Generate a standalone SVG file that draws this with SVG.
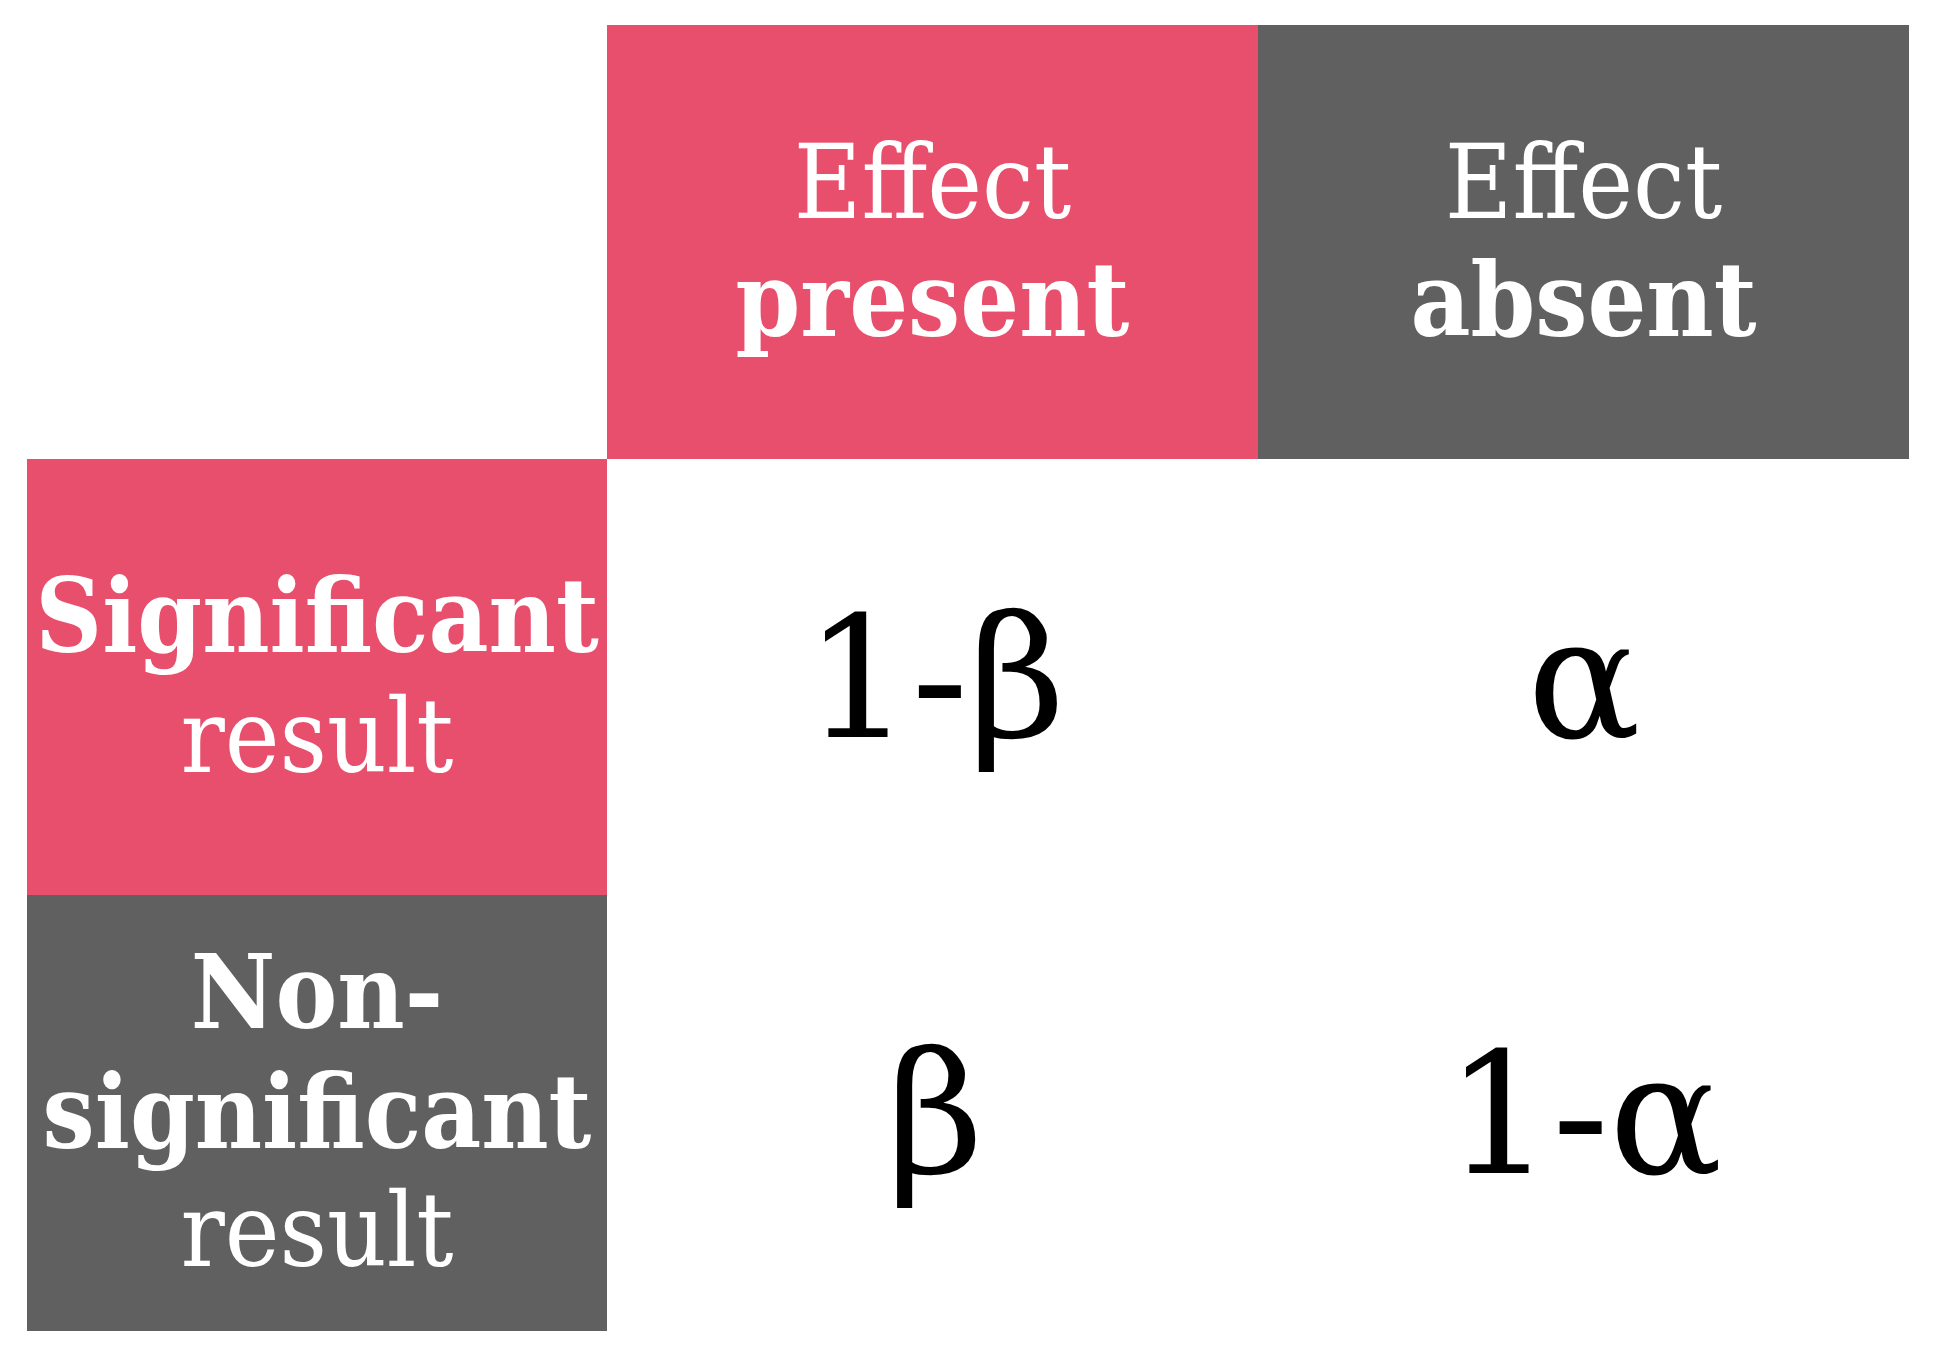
<svg xmlns="http://www.w3.org/2000/svg" width="1936" height="1354" viewBox="0 0 1936 1354">
<style>
.pink{fill:#E84F6C}
.gray{fill:#606060}
.lbl{font-family:"DejaVu Serif Condensed","DejaVu Serif","Liberation Serif",serif;font-stretch:condensed;font-size:103px;fill:#fff;text-anchor:middle}
.b{font-weight:bold}
.val{font-family:"DejaVu Serif","Liberation Serif",serif;font-size:168px;fill:#000;text-anchor:middle}
</style>
<rect width="1936" height="1354" fill="#fff"/>
<g id="col-present">
<rect class="pink" x="607" y="25" width="651" height="434"/>
<text class="lbl" x="932.5" y="218">Effect</text>
<text class="lbl b" x="932.5" y="336">present</text>
</g>
<g id="col-absent">
<rect class="gray" x="1258" y="25" width="651" height="434"/>
<text class="lbl" x="1583.5" y="218">Effect</text>
<text class="lbl b" x="1583.5" y="336">absent</text>
</g>
<g id="row-significant">
<rect class="pink" x="27" y="459" width="580" height="436"/>
<text class="lbl b" x="317" y="652">Significant</text>
<text class="lbl" x="317" y="772">result</text>
</g>
<g id="row-nonsignificant">
<rect class="gray" x="27" y="895" width="580" height="436"/>
<text class="lbl b" x="317" y="1028">Non-</text>
<text class="lbl b" x="317" y="1148">significant</text>
<text class="lbl" x="317" y="1266">result</text>
</g>
<g id="cell-1-beta"><text class="val" x="935" y="737">1-β</text></g>
<g id="cell-alpha"><text class="val" x="1584" y="737">α</text></g>
<g id="cell-beta"><text class="val" x="935" y="1173">β</text></g>
<g id="cell-1-alpha"><text class="val" x="1584" y="1173">1-α</text></g>
<g id="connectors"/>
</svg>
